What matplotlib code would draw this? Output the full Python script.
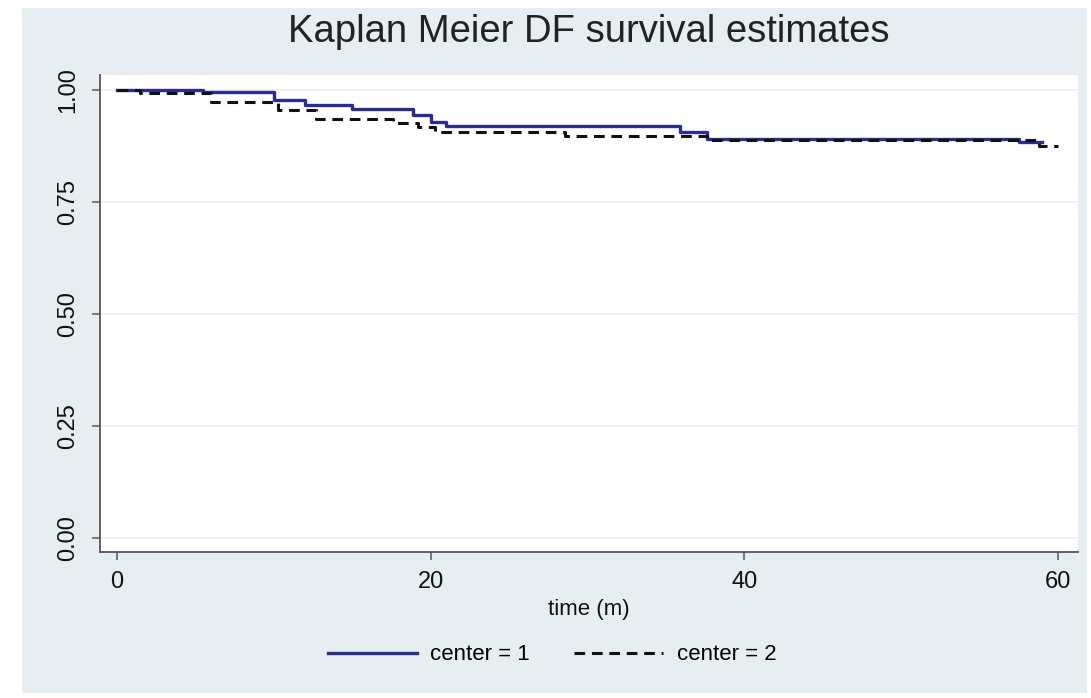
import matplotlib
matplotlib.use("Agg")
import matplotlib.pyplot as plt
from matplotlib.patches import Rectangle

# ---- data ----
time_c1 = [0, 5.5, 10.0, 12.0, 15.0, 18.9, 20.0, 21.0, 35.9, 37.6, 57.5, 59.0]
surv_c1 = [1.0, 0.994, 0.977, 0.966, 0.957, 0.944, 0.929, 0.919, 0.905, 0.891, 0.883, 0.883]

time_c2 = [0, 1.5, 6.0, 10.3, 12.7, 17.6, 19.2, 20.3, 28.6, 37.6, 58.8, 60.0]
surv_c2 = [1.0, 0.992, 0.973, 0.955, 0.935, 0.926, 0.917, 0.906, 0.897, 0.889, 0.874, 0.874]

x_ticks = [0, 20, 40, 60]
y_ticks = [0.0, 0.25, 0.5, 0.75, 1.0]
y_tick_labels = ["0.00", "0.25", "0.50", "0.75", "1.00"]
series_labels = ["center = 1", "center = 2"]
title = "Kaplan Meier DF survival estimates"
x_label = "time (m)"

plt.rcParams['font.family'] = ['Liberation Sans', 'DejaVu Sans']

W, H = 1091, 698
fig = plt.figure(figsize=(W / 100, H / 100), dpi=100)
fig.patch.set_facecolor('white')

# bluish graph region
bg = Rectangle((22 / W, 1 - 693 / H), (1087 - 22) / W, (693 - 8) / H,
               transform=fig.transFigure, facecolor='#e7eef2',
               edgecolor='none', zorder=-5)
fig.patches.append(bg)

ax = fig.add_axes([100 / W, 1 - 552 / H, (1078 - 100) / W, (552 - 75) / H])
ax.set_zorder(2)
ax.set_facecolor('white')

for yt in y_ticks:
    ax.axhline(yt, color='#eaeff2', lw=1.2, zorder=1)

ax.step(time_c1, surv_c1, where='post', color='#2b2d8e', lw=2.4,
        label=series_labels[0], zorder=3)
ax.step(time_c2, surv_c2, where='post', color='#111111', lw=2.2,
        dashes=(3.5, 2.2), label=series_labels[1], zorder=4)

ax.set_xlim(-1.08, 61.28)
ax.set_ylim(-0.031, 1.033)

ax.set_xticks(x_ticks)
ax.set_yticks(y_ticks)
ax.set_yticklabels(y_tick_labels, rotation=90, va='center')

for s in ['top', 'right']:
    ax.spines[s].set_visible(False)
for s in ['left', 'bottom']:
    ax.spines[s].set_color('#555555')
    ax.spines[s].set_linewidth(1.3)

ax.tick_params(axis='both', colors='#555555', labelcolor='#111111',
               labelsize=17, length=6, width=1.1)
ax.tick_params(axis='y', pad=9)
ax.tick_params(axis='x', pad=8)

ax.set_xlabel(x_label, fontsize=16, color='#111111', labelpad=4)

fig.text(589 / W, 1 - 32 / H, title, ha='center', va='center',
         fontsize=27.5, color='#222222')

fig.legend(loc='center', bbox_to_anchor=(552 / W, 1 - 655 / H), ncol=2,
           frameon=False, fontsize=16, handlelength=4.0, columnspacing=2.0,
           handletextpad=0.6)

fig.savefig('out.png', dpi=100, facecolor=fig.get_facecolor())
